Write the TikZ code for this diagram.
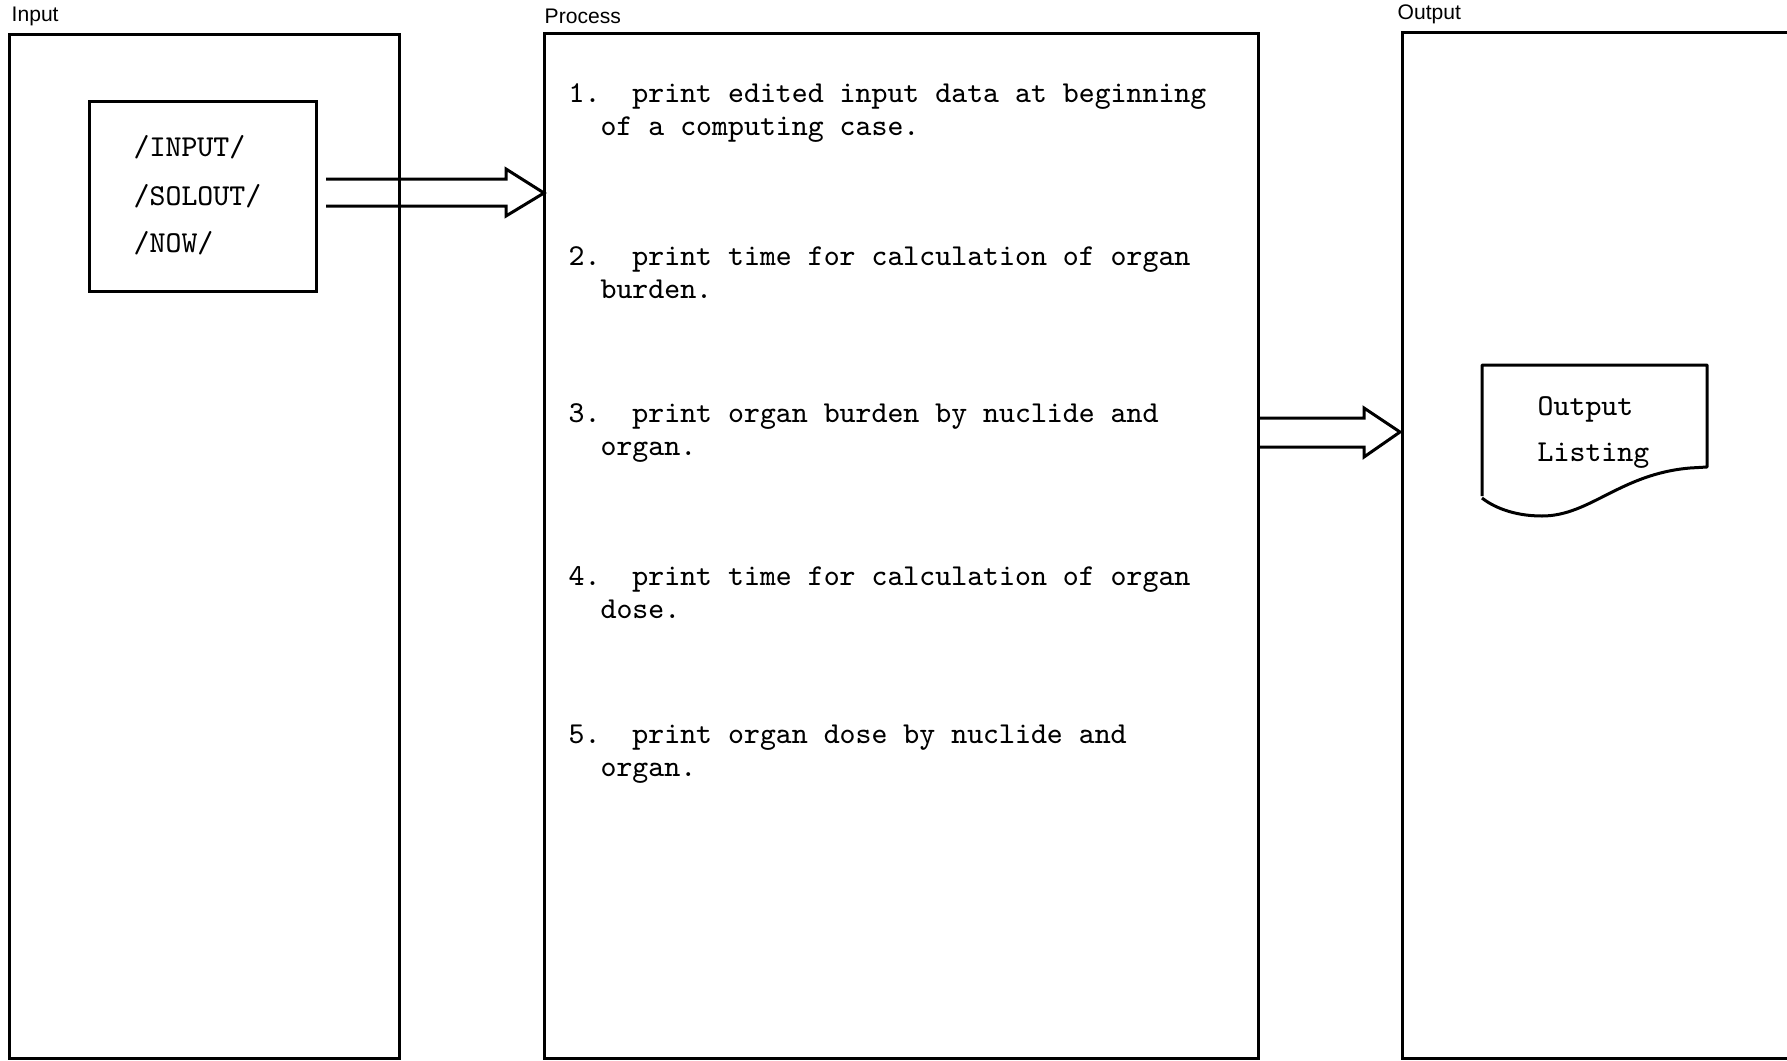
\documentclass[tikz,border=0pt]{standalone}
\usepackage{fontspec}
\setmainfont{Liberation Serif}
\newfontfamily\labelfont{Liberation Sans}
\usetikzlibrary{calc}
\begin{document}
\begin{tikzpicture}[x=0.1mm,y=-0.1mm,
  box/.style={draw=black, line width=0.3mm},
  mono/.style={font=\ttfamily\fontsize{8.64}{9.36}\selectfont, inner sep=0pt, anchor=west},
  item/.style={mono, align=left},
  lbl/.style={font=\labelfont\fontsize{6}{7}\selectfont, inner sep=0pt, anchor=west},
  harrow/.style={draw=black, line width=0.3mm, line join=miter}]
\clip (0,0) rectangle (1787,1061);
\fill[white] (0,0) rectangle (1787,1061);

% column labels
\node[lbl] (lin)  at (11,16)   {Input};
\node[lbl] (lpr)  at (544,16)  {Process};
\node[lbl] (lout) at (1397,14) {Output};

% column boxes
\draw[box] (9,34) rectangle (399,1058);
\coordinate (inR) at (399,193);
\draw[box] (544,33) rectangle (1258,1058);
\coordinate (prL) at (544,193);
\coordinate (prR) at (1258,432);
\draw[box] (1402,32) rectangle (1820,1058);
\coordinate (outL) at (1402,432);

% inner input box
\draw[box] (89,101) rectangle (316,291);
\coordinate (inner) at (316,193);
\node[mono] (t1) at (133,147) {/INPUT/};
\node[mono] (t2) at (133,196) {/SOLOUT/};
\node[mono] (t3) at (133,243) {/NOW/};

% hollow arrow 1
\draw[harrow] ($(inner)+(10,-14)$) -- ($(prL)+(-38,-14)$) -- ($(prL)+(-38,-24)$)
  -- (prL) -- ($(prL)+(-38,23)$) -- ($(prL)+(-38,13)$) -- ($(inner)+(10,13)$);

% process items
\node[item] (i1) at (568,113) {1.\phantom{xx}print edited input data at beginning\\\phantom{xx}of a computing case.};
\node[item] (i2) at (568,273) {2.\phantom{xx}print time for calculation of organ\\\phantom{xx}burden.};
\node[item] (i3) at (568,433) {3.\phantom{xx}print organ burden by nuclide and\\\phantom{xx}organ.};
\node[item] (i4) at (568,593) {4.\phantom{xx}print time for calculation of organ\\\phantom{xx}dose.};
\node[item] (i5) at (568,754) {5.\phantom{xx}print organ dose by nuclide and\\\phantom{xx}organ.};

% hollow arrow 2
\draw[harrow] ($(prR)+(0,-14)$) -- ($(outL)+(-38,-14)$) -- ($(outL)+(-38,-24)$)
  -- ($(outL)+(-2,0)$) -- ($(outL)+(-38,25)$) -- ($(outL)+(-38,15)$) -- ($(prR)+(0,15)$);

% document shape
\draw[box, line join=round] (1482,496) -- (1482,365) -- (1707,365) -- (1707,467)
  -- (1690,468) .. controls (1620,474) and (1590,516) .. (1542,516)
  .. controls (1512,516) and (1492,506) .. (1482,498);
\node[mono] (o1) at (1537,409) {Output};
\node[mono] (o2) at (1537,456) {Listing};
\end{tikzpicture}
\end{document}
